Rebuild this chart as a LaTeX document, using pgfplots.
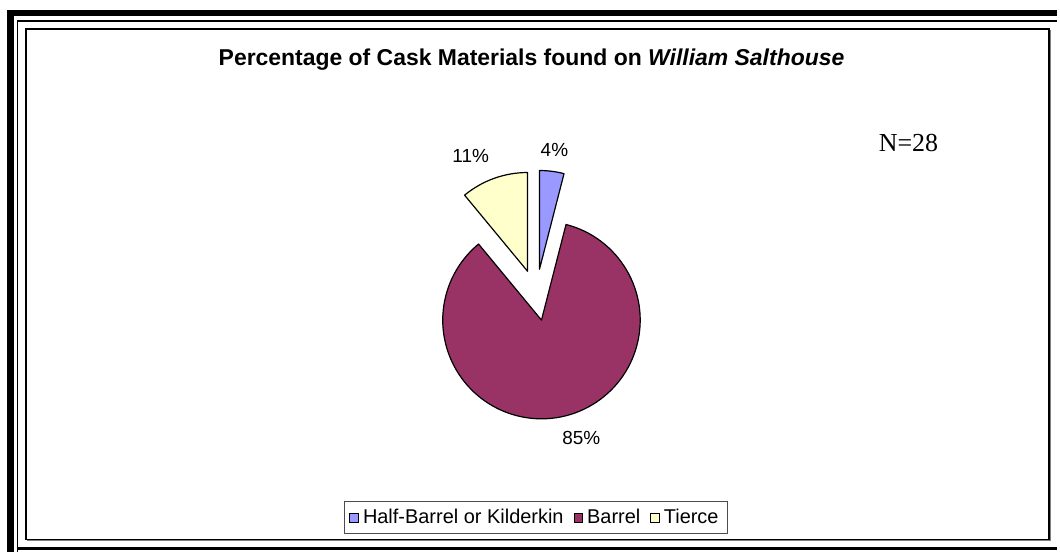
\documentclass[border=0pt]{standalone}
\usepackage{pgfplots}
\usepackage{pgfplotstable}
\pgfplotsset{compat=1.18}
\usepackage{fontspec}
\setmainfont{Liberation Sans}
\newfontfamily\serif{Liberation Serif}

\definecolor{hbcol}{HTML}{9999FF}
\definecolor{barrelcol}{HTML}{993366}
\definecolor{tiercecol}{HTML}{FFFFCC}

% value in percent, explode offset in px (dx, dy; y grows downwards)
\pgfplotstableread{
label value dx dy
HalfBarrel 4 -2 -51
Barrel 85 0 0
Tierce 11 -14 -49
}\casks

\begin{document}
\begin{tikzpicture}
\pgfplotstablegetelem{0}{value}\of\casks \let\vA\pgfplotsretval
\pgfplotstablegetelem{1}{value}\of\casks \let\vB\pgfplotsretval
\pgfplotstablegetelem{2}{value}\of\casks \let\vC\pgfplotsretval
\pgfplotstablegetelem{0}{dx}\of\casks \let\dxA\pgfplotsretval
\pgfplotstablegetelem{0}{dy}\of\casks \let\dyA\pgfplotsretval
\pgfplotstablegetelem{1}{dx}\of\casks \let\dxB\pgfplotsretval
\pgfplotstablegetelem{1}{dy}\of\casks \let\dyB\pgfplotsretval
\pgfplotstablegetelem{2}{dx}\of\casks \let\dxC\pgfplotsretval
\pgfplotstablegetelem{2}{dy}\of\casks \let\dyC\pgfplotsretval
% slices start at 12 o'clock and run clockwise
\pgfmathsetmacro\aA{90}
\pgfmathsetmacro\aB{\aA-3.6*\vA}
\pgfmathsetmacro\aC{\aB-3.6*\vB}
\pgfmathsetmacro\aD{\aC-3.6*\vC}
\def\cx{543}\def\cy{321}\def\rad{49.5pt}
\begin{axis}[
  hide axis, scale only axis,
  width=530pt, height=277pt,
  xmin=0, xmax=1060, ymin=0, ymax=554,
  y dir=reverse, clip=false,
  legend style={at={(axis cs:537.5,519)}, anchor=center,
    draw=black!70, line width=0.5pt, legend columns=3,
    font=\fontsize{10}{12}\selectfont,
    inner xsep=2.5pt, inner ysep=1.8pt,
    /tikz/every even column/.append style={column sep=3pt}},
  legend image code/.code={\draw[#1, line width=0.4pt] (0.5pt,-2.2pt) rectangle (4.9pt,2.2pt);},
]
% page box
\path (axis cs:0,0) rectangle (axis cs:1060,554);
% frame
\draw[line width=3pt] (axis cs:7,13) -- (axis cs:1060,13);
\draw[line width=3.5pt] (axis cs:10.5,10) -- (axis cs:10.5,554);
\draw[line width=0.8pt] (axis cs:17.5,21) -- (axis cs:1060,21);
\draw[line width=0.8pt] (axis cs:17.5,21) -- (axis cs:17.5,554);
\draw[line width=1.5pt] (axis cs:17,550) -- (axis cs:1060,550);
\draw[black!50, line width=0.8pt] (axis cs:27,542) -- (axis cs:1053,542) -- (axis cs:1053,30);
\draw[line width=0.6pt] (axis cs:26,29) rectangle (axis cs:1052,541);

% slices
\filldraw[fill=hbcol, draw=black, line width=0.6pt, line join=round]
  (axis cs:\cx+\dxA,\cy+\dyA) -- ++(\aA:\rad) arc[start angle=\aA, end angle=\aB, radius=\rad] -- cycle;
\filldraw[fill=barrelcol, draw=black, line width=0.6pt, line join=round]
  (axis cs:\cx+\dxB,\cy+\dyB) -- ++(\aB:\rad) arc[start angle=\aB, end angle=\aC, radius=\rad] -- cycle;
\filldraw[fill=tiercecol, draw=black, line width=0.6pt, line join=round]
  (axis cs:\cx+\dxC,\cy+\dyC) -- ++(\aC:\rad) arc[start angle=\aC, end angle=\aD, radius=\rad] -- cycle;

% data labels
\node[font=\fontsize{9.5}{11}\selectfont] at (axis cs:556,150) {\vA\%};
\node[font=\fontsize{9.5}{11}\selectfont] at (axis cs:583,439) {\vB\%};
\node[font=\fontsize{9.5}{11}\selectfont] at (axis cs:472,156) {\vC\%};

% title and note
\node[font=\fontsize{11.5}{13}\selectfont\bfseries] at (axis cs:533,60)
  {Percentage of Cask Materials found on \textit{William Salthouse}};
\node[font=\fontsize{13}{15}\selectfont\serif] at (axis cs:911,143) {N=28};

\addlegendimage{fill=hbcol, draw=black}
\addlegendentry{Half-Barrel or Kilderkin}
\addlegendimage{fill=barrelcol, draw=black}
\addlegendentry{Barrel}
\addlegendimage{fill=tiercecol, draw=black}
\addlegendentry{Tierce}
\end{axis}
\end{tikzpicture}
\end{document}
